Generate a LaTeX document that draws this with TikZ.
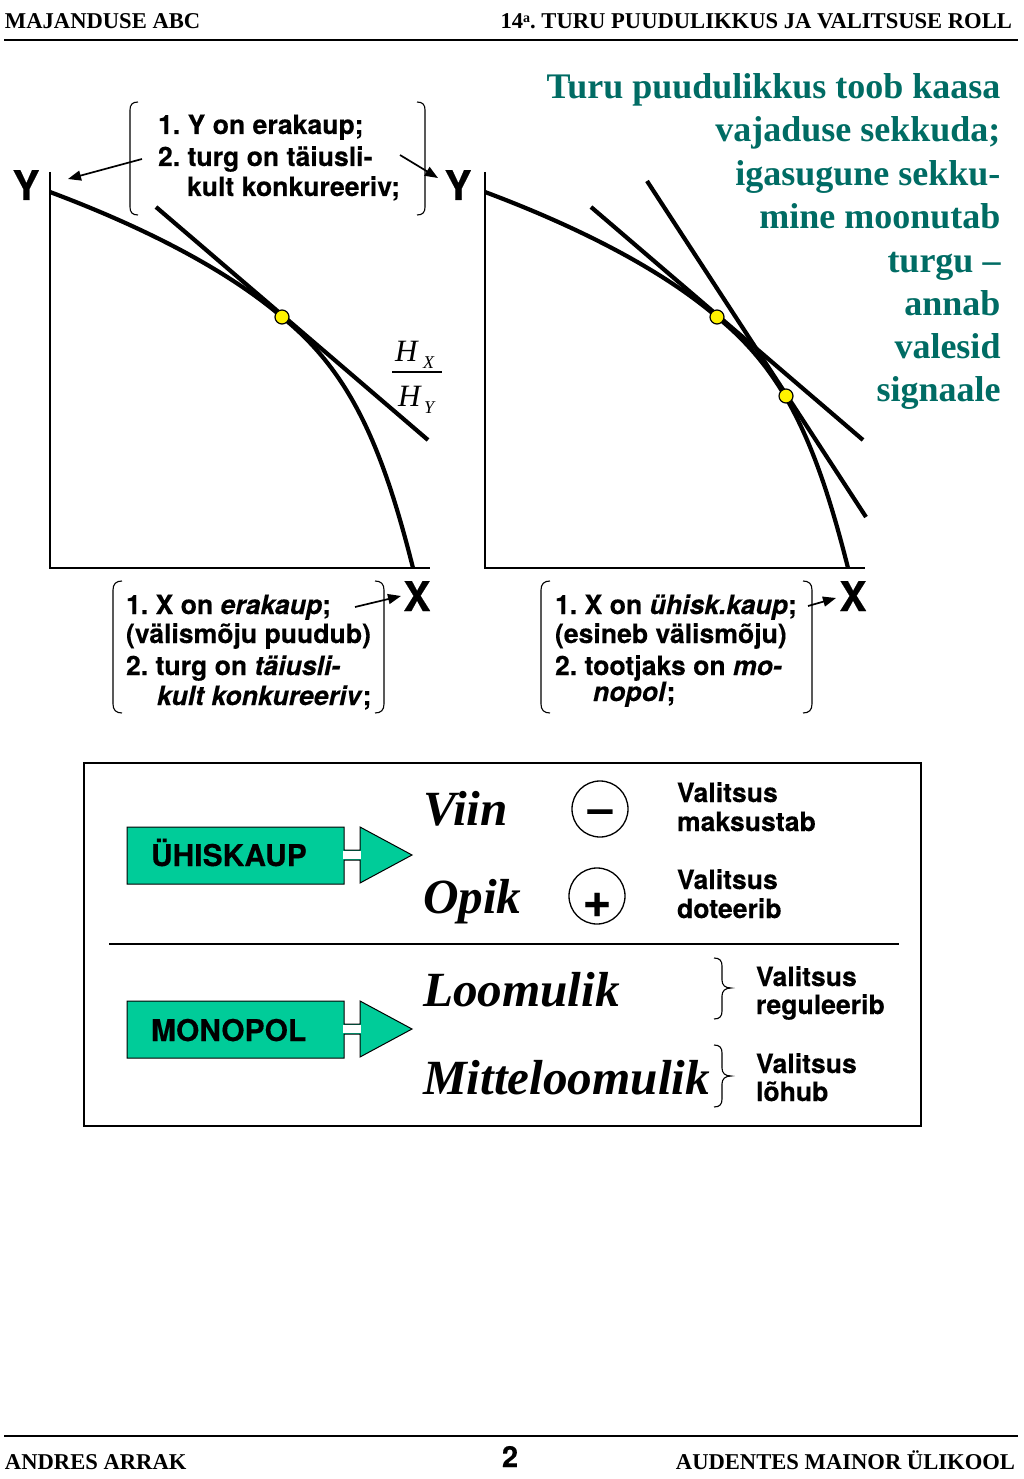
\documentclass[tikz,border=0pt]{standalone}
\usepackage{fontspec}
\setmainfont{Liberation Serif}
\newfontfamily\hv[BoldFeatures={FakeBold=0.25},BoldItalicFeatures={FakeBold=0.25}]{TeX Gyre Heros}
\usetikzlibrary{arrows.meta}
\definecolor{teal1}{RGB}{0,108,100}
\definecolor{green1}{RGB}{0,204,153}
\tikzset{
  x=1pt,y=-1pt,
  txt/.style={inner sep=0pt,outer sep=0pt,anchor=base west},
  head/.style={txt,font=\bfseries\fontsize{22.6}{22.6}\selectfont},
  lab/.style={txt,font=\hv\bfseries\fontsize{26.6}{26.6}\selectfont},
  axl/.style={txt,anchor=base,yshift=-1pt,font=\hv\bfseries\fontsize{41}{41}\selectfont},
  ttl/.style={txt,anchor=base east,yshift=-1pt,text=teal1,font=\bfseries\fontsize{36}{36}\selectfont},
  big/.style={txt,font=\bfseries\itshape\fontsize{49.2}{49.2}\selectfont},
  frac/.style={txt,font=\itshape\fontsize{31}{31}\selectfont},
  sub/.style={txt,font=\itshape\fontsize{18}{18}\selectfont},
  curve/.style={line width=4.2pt},
  ax/.style={line width=1.3pt},
  brk/.style={line width=1.1pt},
  arr/.style={line width=1.7pt,-{Triangle[length=13pt,width=10pt]}},
  dot/.style={circle,draw=black,fill=yellow,line width=1.2pt,minimum size=14pt,inner sep=0pt},
  sign/.style={circle,draw=black,line width=1.3pt,minimum size=56pt,inner sep=0pt},
  blk/.style={draw=black,fill=green1,line width=1pt},
}
\begin{document}
\frenchspacing
\begin{tikzpicture}
\useasboundingbox (0,0) rectangle (1024,1479);
\fill[white] (0,0) rectangle (1024,1479);
% header / footer
\node[head] (h1) at (5,29) {MAJANDUSE ABC};
\node[head,anchor=base east] (h2) at (1012,29) {14\raisebox{6pt}{\fontsize{14}{14}\selectfont a}. TURU PUUDULIKKUS JA VALITSUSE ROLL};
\draw[line width=1.3pt] (4,40) -- (1018,40);
\draw[line width=1.3pt] (4,1436) -- (1018,1436);
\node[head] (f1) at (5,1469) {ANDRES ARRAK};
\node[head,anchor=base east] (f3) at (1015,1469) {AUDENTES MAINOR ÜLIKOOL};
\node[txt,anchor=base,font=\hv\bfseries\fontsize{29}{29}\selectfont] (f2) at (510,1467) {2};
% title
\node[ttl] (t1) at (1000.5,98) {Turu puudulikkus toob kaasa};
\node[ttl] (t2) at (1000.5,141) {vajaduse sekkuda;};
\node[ttl] (t3) at (1000.5,185) {igasugune sekku-};
\node[ttl] (t4) at (1000.5,228) {mine moonutab};
\node[ttl] (t5) at (1000.5,271) {turgu --};
\node[ttl] (t6) at (1000.5,314) {annab};
\node[ttl] (t7) at (1000.5,357) {valesid};
\node[ttl] (t8) at (1000.5,400) {signaale};
% left chart
\draw[ax] (50,172) -- (50,568) -- (430,568);
\draw[curve] (50,192) .. controls (130,222) and (220,264) .. (282,317) .. controls (350,372) and (382,445) .. (413,568);
\coordinate (la) at (156,207);
\coordinate (lb) at (428,440);
\draw[curve] (la) -- (lb);
\node[dot] (d1) at (282,317) {};
\node[axl] (yl) at (26,199) {Y};
\node[axl] (xl) at (417,610) {X};
\node[frac] (hx) at (395,361) {H};
\node[sub] (hxs) at (423,368) {X};
\draw[line width=1.1pt] (392,372) -- (442,372);
\node[frac] (hy) at (398,406) {H};
\node[sub] (hys) at (424,413) {Y};
% right chart
\draw[ax] (485,172) -- (485,568) -- (865,568);
\draw[curve] (485,192) .. controls (565,222) and (655,264) .. (717,317) .. controls (785,372) and (817,445) .. (848,568);
\coordinate (ra) at (591,207);
\coordinate (rb) at (863,440);
\coordinate (rc) at (647,181);
\coordinate (rd) at (866,517);
\draw[curve] (ra) -- (rb);
\draw[curve] (rc) -- (rd);
\node[dot] (d2) at (717,317) {};
\node[dot] (d3) at (786,396) {};
\node[axl] (yr) at (458,199) {Y};
\node[axl] (xr) at (853,610) {X};
% top note
\node[lab] (n1) at (158,134) {1. Y on erakaup;};
\node[lab] (n2) at (158,166) {2. turg on täiusli-};
\node[lab] (n3) at (187,196) {kult konkureeriv;};
\draw[brk] (138,102) .. controls (132,102) and (130,105) .. (130,110) -- (130,207) .. controls (130,212) and (132,215) .. (138,215);
\draw[brk] (417,102) .. controls (423,102) and (425,105) .. (425,110) -- (425,207) .. controls (425,212) and (423,215) .. (417,215);
\coordinate (a1s) at (142,159);
\coordinate (a1e) at (68,179);
\coordinate (a2s) at (400,155);
\coordinate (a2e) at (438,178);
\draw[arr] (a1s) -- (a1e);
\draw[arr] (a2s) -- (a2e);
% lower left note
\node[lab] (m1) at (126,614) {1. X on \textit{erakaup};};
\node[lab] (m2) at (126,643) {(välismõju puudub)};
\node[lab] (m3) at (126,675) {2. turg on \textit{täiusli-}};
\node[lab] (m4) at (157,705) {\textit{kult konkureeriv};};
\draw[brk] (122,581) .. controls (116,581) and (113,584) .. (113,590) -- (113,704) .. controls (113,710) and (116,713) .. (122,713);
\draw[brk] (375,581) .. controls (381,581) and (384,584) .. (384,590) -- (384,704) .. controls (384,710) and (381,713) .. (375,713);
\coordinate (a3s) at (355,607);
\coordinate (a3e) at (401,596);
\draw[arr] (a3s) -- (a3e);
% lower right note
\node[lab] (k1) at (555,614) {1. X on \textit{ühisk.kaup};};
\node[lab] (k2) at (555,643) {(esineb välismõju)};
\node[lab] (k3) at (555,675) {2. tootjaks on \textit{mo-}};
\node[lab] (k4) at (593,701) {\textit{nopol};};
\draw[brk] (550,581) .. controls (544,581) and (541,584) .. (541,590) -- (541,704) .. controls (541,710) and (544,713) .. (550,713);
\draw[brk] (803,581) .. controls (809,581) and (812,584) .. (812,590) -- (812,704) .. controls (812,710) and (809,713) .. (803,713);
\coordinate (a4s) at (808,606);
\coordinate (a4e) at (836,598);
\draw[arr] (a4s) -- (a4e);
% panel
\draw[line width=1.3pt] (84,763) rectangle (921,1126);
\draw[line width=1.3pt] (109,944) -- (899,944);
% block arrows
\foreach \d in {0,174}{
  \draw[blk] (127,827+\d) -- (344,827+\d) -- (344,850+\d) -- (360,850+\d) -- (360,827+\d) -- (412,855+\d) -- (360,883+\d) -- (360,860+\d) -- (344,860+\d) -- (344,884+\d) -- (127,884+\d) -- cycle;
  \fill[white] (343.4,850.6+\d) rectangle (360.6,859.4+\d);
}
\node[lab,font=\hv\bfseries\fontsize{30}{30}\selectfont] (bu) at (151,866) {ÜHISKAUP};
\node[lab,font=\hv\bfseries\fontsize{30}{30}\selectfont] (bm) at (151,1041) {MONOPOL};
\node[big] (w1) at (423,825) {Viin};
\node[big] (w2) at (423,913) {Opik};
\node[big] (w3) at (423,1006) {Loomulik};
\node[big] (w4) at (423,1094) {Mitteloomulik};
\node[sign] (cm) at (600,809) {};
\node[sign] (cp) at (597,896) {};
\node[txt,anchor=base,font=\hv\bfseries\fontsize{44}{44}\selectfont] (sm) at (600,823) {–};
\node[txt,anchor=base,font=\hv\bfseries\fontsize{50}{50}\selectfont] (sp) at (597,917) {+};
\node[lab] (v1) at (677,802) {Valitsus};
\node[lab] (v2) at (677,831) {maksustab};
\node[lab] (v3) at (677,889) {Valitsus};
\node[lab] (v4) at (677,918) {doteerib};
\node[lab] (v5) at (756,986) {Valitsus};
\node[lab] (v6) at (756,1014) {reguleerib};
\node[lab] (v7) at (756,1073) {Valitsus};
\node[lab] (v8) at (756,1101) {lõhub};
\draw[brk] (714,958) .. controls (720,958) and (722,961) .. (722,966) -- (722,980) .. controls (722,985) and (725,988) .. (731,988) .. controls (725,988) and (722,991) .. (722,996) -- (722,1011) .. controls (722,1016) and (720,1019) .. (714,1019);
\draw[brk] (714,1045) .. controls (720,1045) and (722,1048) .. (722,1053) -- (722,1068) .. controls (722,1073) and (725,1076) .. (731,1076) .. controls (725,1076) and (722,1079) .. (722,1084) -- (722,1099) .. controls (722,1104) and (720,1107) .. (714,1107);
\end{tikzpicture}
\end{document}
